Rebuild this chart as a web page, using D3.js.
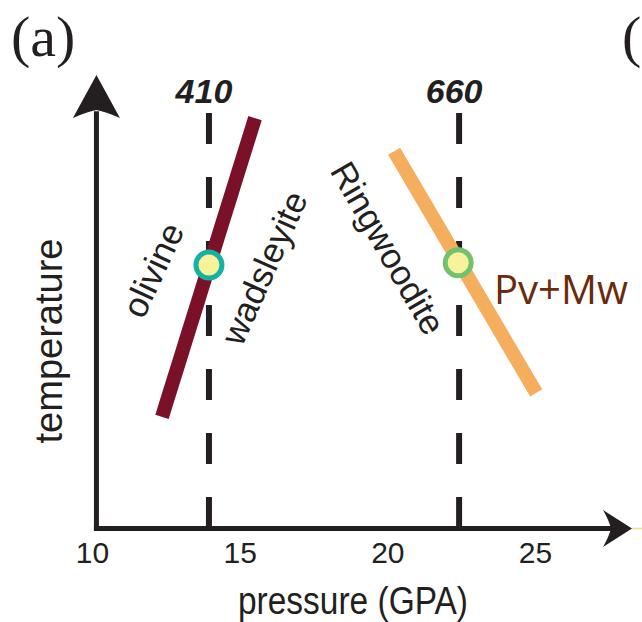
<!DOCTYPE html>
<html>
<head>
<meta charset="utf-8">
<script src="https://cdn.jsdelivr.net/npm/d3@7"></script>
<style>
  html, body { margin: 0; padding: 0; background: #fff; }
  svg { display: block; }
  text { fill: #231f20; }
</style>
</head>
<body>
<svg id="chart" width="642" height="622"></svg>
<script>
// pressure axis tick labels (GPa)
var pressureTicks = [10, 15, 20, 25];

// seismic discontinuities: depth label and pressure (GPa)
var discNames = ["410", "660"];
var discPressure = [13.96, 22.43];

// phase boundaries, temperature in arbitrary units (0 = axis, 100 = arrow tip)
var olWdBoundary = [{ p: 12.37, t: 24.6 }, { p: 15.52, t: 90.5 }];
var rwPvBoundary = [{ p: 20.23, t: 83.2 }, { p: 25.04, t: 29.9 }];

// points where the boundaries cross the discontinuities
var crossings = [{ p: 13.96, t: 58.1 }, { p: 22.40, t: 58.6 }];

// phase names
var phaseLabels = ["olivine", "wadsleyite", "Ringwoodite", "Pv+Mw"];

var svg = d3.select('#chart'),
    width = +svg.attr('width'),
    height = +svg.attr('height');

var x = d3.scaleLinear().domain([10, 25]).range([92, 535]);
var y = d3.scaleLinear().domain([0, 100]).range([528.5, 75]);

var ink = '#231f20';
var sans = '"Liberation Sans", Arial, Helvetica, sans-serif';
var axisX0 = x(10.15);       // where the vertical axis stands
var dashTop = 91.6;          // top of the dashed discontinuity lines

// panel letter
svg.append('text')
    .attr('x', 11).attr('y', 56)
    .attr('font-family', '"Liberation Serif", "Times New Roman", serif')
    .attr('font-size', 58)
    .text('(a)');
// start of the next panel, at the edge
svg.append('text')
    .attr('x', 622).attr('y', 56)
    .attr('font-family', '"Liberation Serif", "Times New Roman", serif')
    .attr('font-size', 58)
    .text('(');
svg.append('line')
    .attr('x1', 632).attr('x2', 642)
    .attr('y1', y(0)).attr('y2', y(0))
    .attr('stroke', '#f3df82').attr('stroke-width', 1.5);

// dashed discontinuities
var disc = svg.selectAll('.disc')
    .data(discPressure)
    .enter().append('g')
    .attr('class', 'disc');

disc.append('line')
    .attr('x1', d => x(d)).attr('x2', d => x(d))
    .attr('y1', y(dashTop)).attr('y2', y(0))
    .attr('stroke', ink)
    .attr('stroke-width', 6)
    .attr('stroke-dasharray', '31,33');

disc.append('text')
    .attr('x', d => x(d) - 5)
    .attr('y', 103)
    .attr('text-anchor', 'middle')
    .attr('font-family', sans)
    .attr('font-size', 34)
    .attr('font-weight', 'bold')
    .attr('font-style', 'italic')
    .text((d, i) => discNames[i]);

// axes
svg.append('line')
    .attr('x1', axisX0).attr('x2', axisX0)
    .attr('y1', y(0) + 2.5).attr('y2', y(92))
    .attr('stroke', ink).attr('stroke-width', 5);

svg.append('line')
    .attr('x1', axisX0 - 2.5).attr('x2', 615)
    .attr('y1', y(0)).attr('y2', y(0))
    .attr('stroke', ink).attr('stroke-width', 5);

// arrow heads
svg.append('path')
    .attr('d', 'M0,0 L-43,-23.5 Q-37,-10 -35,0 Q-37,10 -43,23.5 Z')
    .attr('transform', 'translate(' + axisX0 + ',' + y(100) + ') rotate(-90)')
    .attr('fill', ink);

svg.append('path')
    .attr('d', 'M0,0 L-29,-18.5 Q-23,-8 -21,0 Q-23,8 -29,18.5 Z')
    .attr('transform', 'translate(632,' + y(0) + ')')
    .attr('fill', ink);

// pressure tick labels
var xAxis = svg.append('g')
    .attr('transform', 'translate(0,' + y(0) + ')')
    .call(d3.axisBottom(x).tickValues(pressureTicks).tickSize(0).tickPadding(13));
xAxis.select('.domain').remove();
xAxis.selectAll('text')
    .attr('font-family', sans)
    .attr('font-size', 30)
    .attr('fill', ink);

// axis titles
svg.append('text')
    .attr('transform', 'translate(62,341) rotate(-90)')
    .attr('text-anchor', 'middle')
    .attr('font-family', sans)
    .attr('font-size', 38)
    .text('temperature');

svg.append('text')
    .attr('x', 238).attr('y', 614)
    .attr('font-family', sans)
    .attr('font-size', 38)
    .attr('textLength', 230)
    .attr('lengthAdjust', 'spacingAndGlyphs')
    .text('pressure (GPA)');

// phase boundaries
var line = d3.line().x(d => x(d.p)).y(d => y(d.t));

svg.append('path')
    .datum(olWdBoundary)
    .attr('d', line)
    .attr('fill', 'none')
    .attr('stroke', '#7b1029')
    .attr('stroke-width', 14);

svg.append('path')
    .datum(rwPvBoundary)
    .attr('d', line)
    .attr('fill', 'none')
    .attr('stroke', '#f5ae5e')
    .attr('stroke-width', 14);

// crossing points
var ringColors = ['#15b2a2', '#72c16e'];
svg.selectAll('.cross')
    .data(crossings)
    .enter().append('circle')
    .attr('class', 'cross')
    .attr('cx', d => x(d.p))
    .attr('cy', d => y(d.t))
    .attr('r', 13)
    .attr('fill', '#f8f29a')
    .attr('stroke', (d, i) => ringColors[i])
    .attr('stroke-width', 5);

// phase labels
svg.append('text')
    .attr('transform', 'translate(153,270) rotate(-65)')
    .attr('text-anchor', 'middle').attr('dy', '0.35em')
    .attr('font-family', sans).attr('font-size', 35)
    .text(phaseLabels[0]);

svg.append('text')
    .attr('transform', 'translate(264,268) rotate(-66)')
    .attr('text-anchor', 'middle').attr('dy', '0.35em')
    .attr('font-family', sans).attr('font-size', 35)
    .text(phaseLabels[1]);

svg.append('text')
    .attr('transform', 'translate(388,248) rotate(60)')
    .attr('text-anchor', 'middle').attr('dy', '0.35em')
    .attr('font-family', sans).attr('font-size', 35)
    .text(phaseLabels[2]);

svg.append('text')
    .attr('x', 494).attr('y', 304)
    .attr('font-family', '"Open Sans", "Noto Sans", sans-serif')
    .attr('font-size', 40)
    .style('fill', '#6a2a0c')
    .text(phaseLabels[3]);
</script>
</body>
</html>
